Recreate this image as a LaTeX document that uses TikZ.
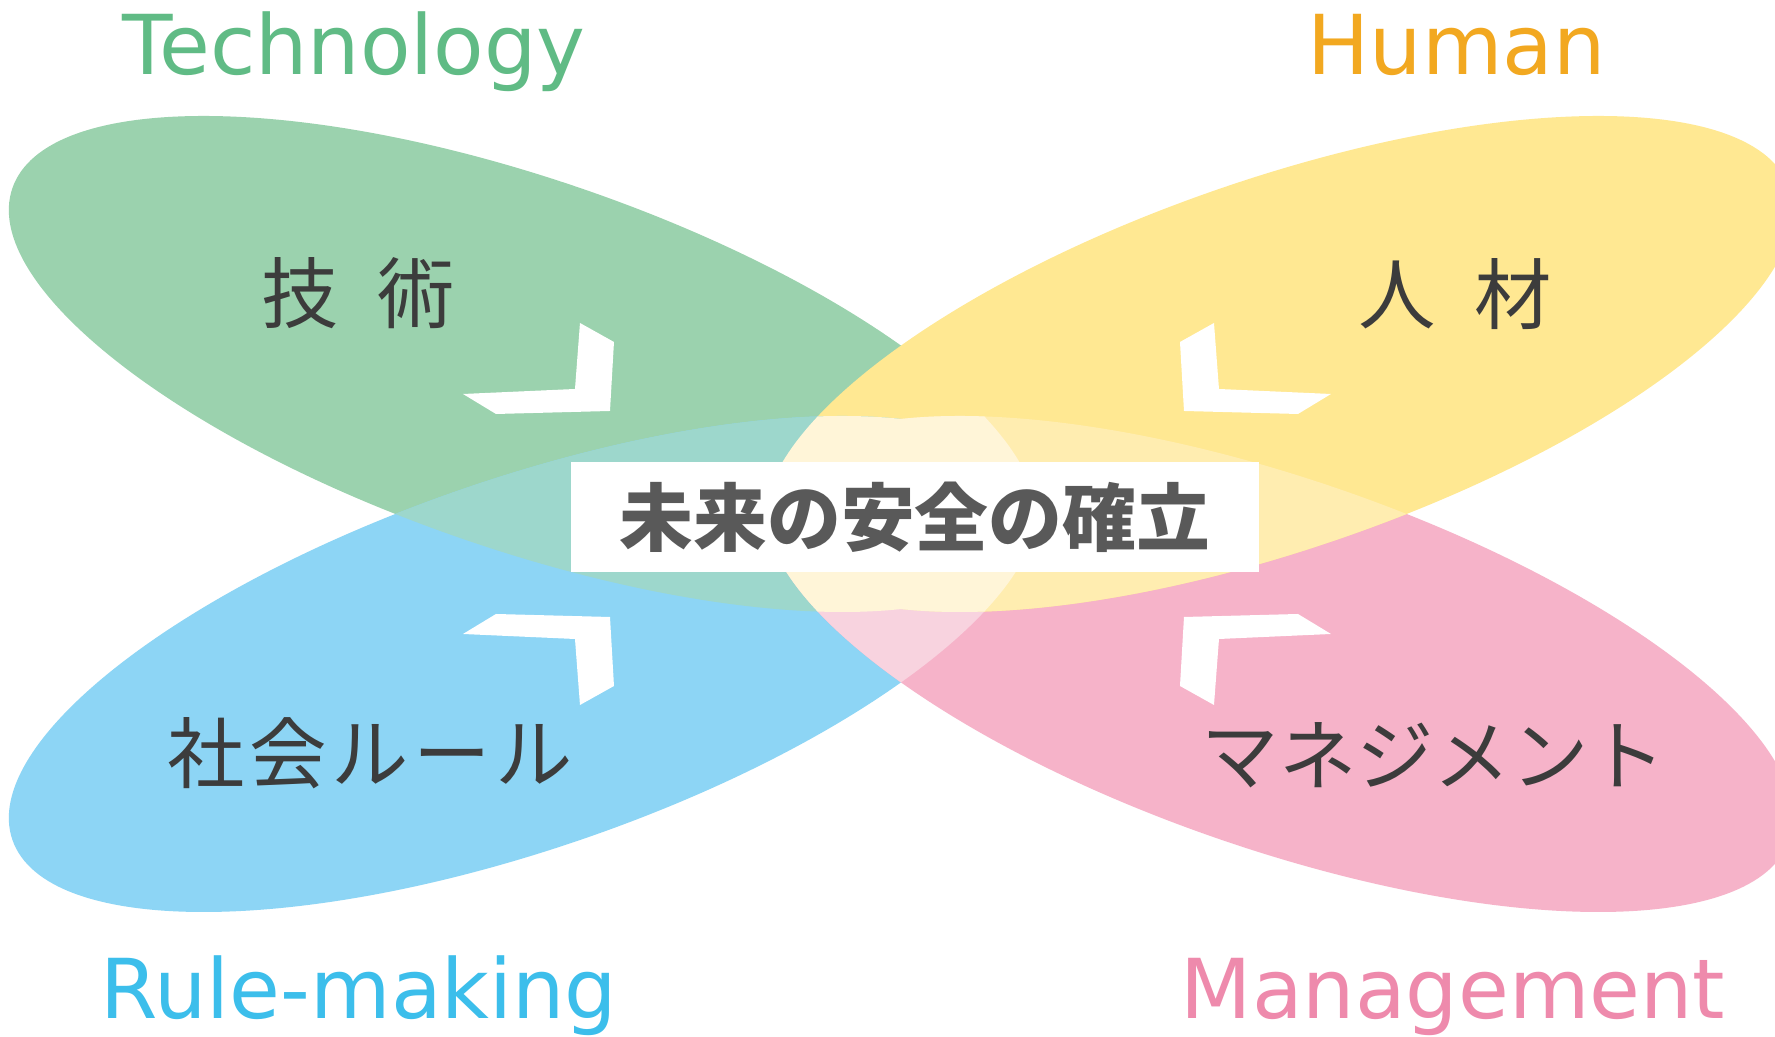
\documentclass[tikz,border=0pt]{standalone}
\usepackage{fontspec}
\newfontfamily\jpfont{Noto Sans CJK JP}
\newfontfamily\enfont{DejaVu Sans}
\usetikzlibrary{positioning}
\definecolor{techgreen}{RGB}{155,210,174}
\definecolor{humanyellow}{RGB}{255,232,146}
\definecolor{ruleblue}{RGB}{141,213,245}
\definecolor{mgmtpink}{RGB}{246,179,201}
\definecolor{tealmix}{RGB}{157,215,204}
\definecolor{palepink}{RGB}{248,211,223}
\definecolor{paleyellow}{RGB}{255,237,176}
\definecolor{creammix}{RGB}{255,245,216}
\definecolor{techtext}{RGB}{96,187,133}
\definecolor{humantext}{RGB}{242,168,32}
\definecolor{ruletext}{RGB}{60,190,235}
\definecolor{mgmttext}{RGB}{238,138,172}
\definecolor{jpgray}{RGB}{60,60,60}
\definecolor{titlegray}{RGB}{89,89,89}
\tikzset{
  petal/.style={x radius=540, y radius=185},
  heading/.style={font=\enfont\fontsize{23.5}{27}\selectfont, inner sep=0pt, anchor=base west},
  kanji/.style={font=\jpfont\fontsize{22}{26}\selectfont, text=jpgray, inner sep=0pt},
}
\newcommand{\techpetal}{(-374,150) ellipse [petal, rotate=-19]}
\newcommand{\humanpetal}{(382,150) ellipse [petal, rotate=19]}
\newcommand{\rulepetal}{(-374,-150) ellipse [petal, rotate=19]}
\newcommand{\mgmtpetal}{(382,-150) ellipse [petal, rotate=-19]}

\begin{document}
\begin{tikzpicture}[x=0.01cm, y=0.01cm]
\fill[white] (-897,-523) rectangle (878,514);
\useasboundingbox (-897,-523) rectangle (878,514);
% petals
\fill[techgreen] \techpetal;
\fill[ruleblue] \rulepetal;
\fill[mgmtpink] \mgmtpetal;
\fill[humanyellow] \humanpetal;
% overlaps
\begin{scope}
  \clip \techpetal;
  \fill[tealmix] \rulepetal;
\end{scope}
\begin{scope}
  \clip \rulepetal;
  \fill[palepink] \mgmtpetal;
\end{scope}
\begin{scope}
  \clip \mgmtpetal;
  \fill[paleyellow] \humanpetal;
\end{scope}
\begin{scope}
  \clip \techpetal;
  \clip \rulepetal;
  \fill[creammix] \humanpetal;
  \fill[creammix] \mgmtpetal;
\end{scope}
\begin{scope}
  \clip \humanpetal;
  \clip \mgmtpetal;
  \fill[creammix] \techpetal;
  \fill[creammix] \rulepetal;
\end{scope}
% chevrons
\foreach \sx/\sy in {1/1,-1/1,1/-1,-1/-1}
  \fill[white, xscale=\sx, yscale=\sy] (-317,191) -- (-283,172) -- (-287,103) -- (-401,100) -- (-434,120) -- (-322,125) -- cycle;
% labels
\node[heading, text=techtext] (technology) at (-775,439) {Technology};
\node[heading, text=humantext] (human) at (410,439) {Human};
\node[heading, text=ruletext] (rulemaking) at (-797,-505) {Rule-making};
\node[heading, text=mgmttext] (management) at (283,-505) {Management};
\node[kanji] (gijutsu) at (-539,221) {技\hspace{0.5em}術};
\node[kanji] (jinzai) at (558,220) {人\hspace{0.5em}材};
\node[kanji] (shakai) at (-527,-239) {社\hspace{0.06em}会\hspace{0.06em}ル\hspace{0.06em}ー\hspace{0.06em}ル};
\node[kanji] (manage) at (537,-241) {マネジメント};
\node[fill=white, minimum width=6.87cm, minimum height=1.1cm, inner sep=0pt,
  font=\jpfont\bfseries\fontsize{21}{24}\selectfont, text=titlegray] (goal) at (18,-3) {未来の安全の確立};
\end{tikzpicture}
\end{document}
